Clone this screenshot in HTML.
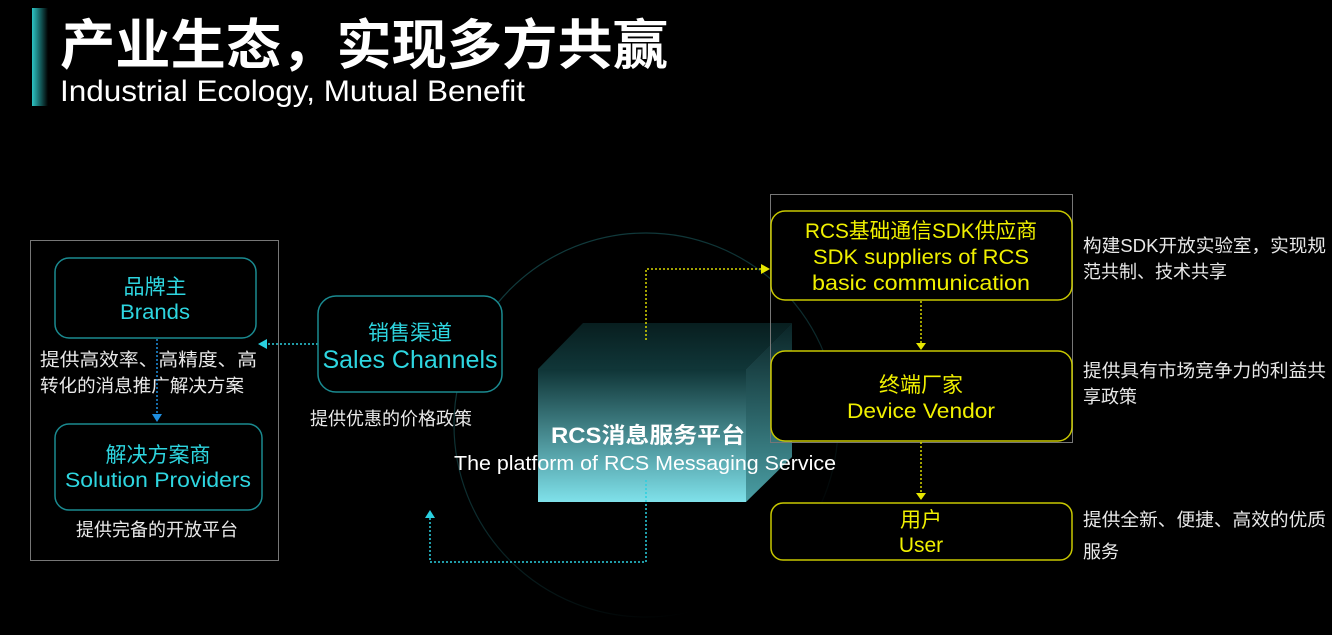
<!DOCTYPE html>
<html><head><meta charset="utf-8"><style>
html,body{margin:0;padding:0;background:#000;width:1332px;height:635px;overflow:hidden}
svg{display:block}
text{font-family:"Liberation Sans","Noto Sans CJK SC",sans-serif}
</style></head><body>
<svg width="1332" height="635" viewBox="0 0 1332 635" xmlns="http://www.w3.org/2000/svg">
<defs>
<linearGradient id="bar" x1="0" x2="1" y1="0" y2="0"><stop offset="0" stop-color="#2cc4c4"/><stop offset="1" stop-color="#000"/></linearGradient>
<linearGradient id="front" x1="0" x2="0" y1="0" y2="1"><stop offset="0" stop-color="#0f3436"/><stop offset="1" stop-color="#7fe1ea"/></linearGradient>
<linearGradient id="side" x1="0" x2="0" y1="0" y2="1"><stop offset="0" stop-color="#0a2426"/><stop offset="1" stop-color="#4a9ea4"/></linearGradient>
<linearGradient id="top" x1="0" x2="0" y1="0" y2="1"><stop offset="0" stop-color="#081e1f"/><stop offset="1" stop-color="#103638"/></linearGradient>
<linearGradient id="circ" x1="0" x2="0.6" y1="0" y2="1"><stop offset="0" stop-color="#124042"/><stop offset="0.6" stop-color="#0c2a2c"/><stop offset="1" stop-color="#000"/></linearGradient>
</defs>
<!-- header -->
<rect x="32" y="8" width="16" height="98" fill="url(#bar)"/>
<text x="60" y="64" font-size="54" font-weight="bold" fill="#fff" textLength="608" lengthAdjust="spacingAndGlyphs">产业生态，实现多方共赢</text>
<text x="60" y="101" font-size="30" fill="#fff" textLength="465" lengthAdjust="spacingAndGlyphs">Industrial Ecology, Mutual Benefit</text>

<!-- circle -->
<circle cx="646" cy="425" r="192" fill="none" stroke="url(#circ)" stroke-width="1.2"/>

<!-- left group -->
<rect x="30.5" y="240.5" width="248" height="320" fill="none" stroke="#777" stroke-width="1"/>
<rect x="55" y="258" width="201" height="80" rx="14" fill="#000" stroke="#1a8a90" stroke-width="1.5"/>
<text x="155" y="294" font-size="21" fill="#2ed6e0" text-anchor="middle">品牌主</text>
<text x="155" y="319" font-size="21" fill="#2ed6e0" text-anchor="middle" textLength="70" lengthAdjust="spacingAndGlyphs">Brands</text>
<text x="40" y="366" font-size="18" fill="#e8e8e8" textLength="217" lengthAdjust="spacingAndGlyphs">提供高效率、高精度、高</text>
<text x="40" y="392" font-size="18" fill="#e8e8e8" textLength="204" lengthAdjust="spacingAndGlyphs">转化的消息推广解决方案</text>
<line x1="157" y1="339" x2="157" y2="414" stroke="#1f8fe0" stroke-width="1.5" stroke-dasharray="2,2"/>
<path d="M152,414 L162,414 L157,422z" fill="#1f8fe0"/>
<rect x="55" y="424" width="207" height="86" rx="14" fill="#000" stroke="#1a8a90" stroke-width="1.5"/>
<text x="158" y="462" font-size="21" fill="#2ed6e0" text-anchor="middle">解决方案商</text>
<text x="158" y="487" font-size="21" fill="#2ed6e0" text-anchor="middle" textLength="186" lengthAdjust="spacingAndGlyphs">Solution Providers</text>
<text x="157" y="536" font-size="18" fill="#e8e8e8" text-anchor="middle">提供完备的开放平台</text>

<!-- sales -->
<line x1="318" y1="344" x2="266" y2="344" stroke="#2ad0e0" stroke-width="1.5" stroke-dasharray="2,2"/>
<path d="M258,344 L267,339 L267,349z" fill="#2ad0e0"/>
<rect x="318" y="296" width="184" height="96" rx="18" fill="#000" stroke="#1a8a90" stroke-width="1.5"/>
<text x="410" y="340" font-size="21" fill="#2ed6e0" text-anchor="middle">销售渠道</text>
<text x="410" y="368" font-size="25" fill="#2ed6e0" text-anchor="middle" textLength="175" lengthAdjust="spacingAndGlyphs">Sales Channels</text>
<text x="310" y="425" font-size="18" fill="#e8e8e8">提供优惠的价格政策</text>

<!-- cube -->
<polygon points="538,369 583,323 792,323 746,369" fill="url(#top)"/>
<polygon points="746,369 792,323 792,457 746,502" fill="url(#side)"/>
<rect x="538" y="369" width="208" height="133" fill="url(#front)"/>
<polyline points="646,340 646,269 762,269" fill="none" stroke="#d8d800" stroke-width="1.5" stroke-dasharray="2,2"/>
<path d="M770,269 L761,264 L761,274z" fill="#e6e600"/>
<polyline points="646,480 646,562 430,562 430,518" fill="none" stroke="#2ad0e0" stroke-width="1.5" stroke-dasharray="2,2"/>
<path d="M430,510 L425,518 L435,518z" fill="#2ad0e0"/>
<text x="648" y="443" font-size="22" font-weight="bold" fill="#fff" text-anchor="middle" textLength="194" lengthAdjust="spacingAndGlyphs">RCS消息服务平台</text>
<text x="645" y="470" font-size="20" fill="#fff" text-anchor="middle" textLength="382" lengthAdjust="spacingAndGlyphs">The platform of RCS Messaging Service</text>

<!-- right group -->
<rect x="770.5" y="194.5" width="302" height="248" fill="none" stroke="#777" stroke-width="1"/>
<rect x="771" y="211" width="301" height="89" rx="14" fill="#000" stroke="#c8c800" stroke-width="1.5"/>
<text x="921" y="238" font-size="21" fill="#f0f000" text-anchor="middle" textLength="232" lengthAdjust="spacingAndGlyphs">RCS基础通信SDK供应商</text>
<text x="921" y="264" font-size="21" fill="#f0f000" text-anchor="middle" textLength="216" lengthAdjust="spacingAndGlyphs">SDK suppliers of RCS</text>
<text x="921" y="290" font-size="21" fill="#f0f000" text-anchor="middle" textLength="218" lengthAdjust="spacingAndGlyphs">basic communication</text>
<line x1="921" y1="301" x2="921" y2="343" stroke="#d8d800" stroke-width="1.5" stroke-dasharray="2,2"/>
<path d="M916,343 L926,343 L921,350z" fill="#e6e600"/>
<rect x="771" y="351" width="301" height="90" rx="14" fill="#000" stroke="#c8c800" stroke-width="1.5"/>
<text x="921" y="392" font-size="21" fill="#f0f000" text-anchor="middle">终端厂家</text>
<text x="921" y="418" font-size="21" fill="#f0f000" text-anchor="middle" textLength="148" lengthAdjust="spacingAndGlyphs">Device Vendor</text>
<line x1="921" y1="442" x2="921" y2="493" stroke="#d8d800" stroke-width="1.5" stroke-dasharray="2,2"/>
<path d="M916,493 L926,493 L921,500z" fill="#e6e600"/>
<rect x="771" y="503" width="301" height="57" rx="12" fill="#000" stroke="#c8c800" stroke-width="1.5"/>
<text x="921" y="527" font-size="21" fill="#f0f000" text-anchor="middle">用户</text>
<text x="921" y="552" font-size="21" fill="#f0f000" text-anchor="middle">User</text>

<text x="1083" y="252" font-size="18" fill="#e8e8e8" textLength="243" lengthAdjust="spacingAndGlyphs">构建SDK开放实验室，实现规</text>
<text x="1083" y="278" font-size="18" fill="#e8e8e8">范共制、技术共享</text>
<text x="1083" y="377" font-size="18" fill="#e8e8e8" textLength="243" lengthAdjust="spacingAndGlyphs">提供具有市场竞争力的利益共</text>
<text x="1083" y="403" font-size="18" fill="#e8e8e8">享政策</text>
<text x="1083" y="526" font-size="18" fill="#e8e8e8" textLength="243" lengthAdjust="spacingAndGlyphs">提供全新、便捷、高效的优质</text>
<text x="1083" y="558" font-size="18" fill="#e8e8e8">服务</text>
</svg>
</body></html>
